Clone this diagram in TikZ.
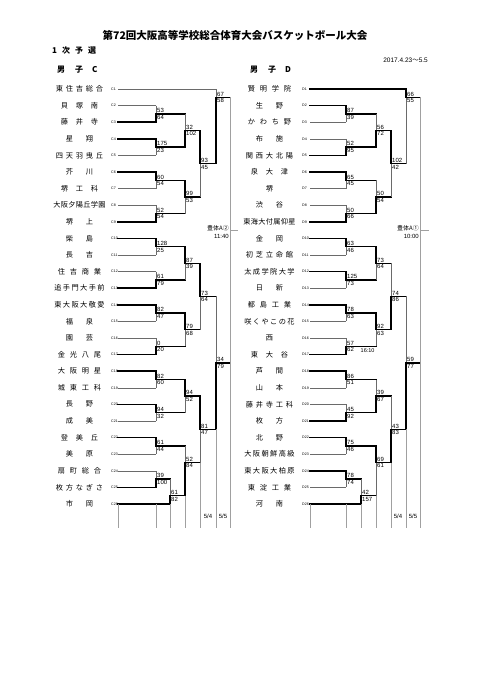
\documentclass[tikz,border=0pt]{standalone}
\usepackage{fontspec}
\setmainfont{Noto Sans CJK JP}
\newfontfamily\numfont{Liberation Sans}
\definecolor{LoseGray}{HTML}{6A6A6A}
\definecolor{RuleGray}{HTML}{A0A0A0}
\usetikzlibrary{positioning}
\newcommand{\spreadname}[1]{\makebox[53pt]{\spreadloop#1\relax}}
\def\spreadloop#1{\ifx\relax#1\hfill\else\hfill#1\expandafter\spreadloop\fi}
% #1 winner (t/b), #2 column, #3 upper entry, #4 out, #5 lower entry, #6 next column, #7/#8 scores
\newcommand{\game}[8]{%
  \ifx t#1
    \draw[loseline] (#2,#4) -- (#2,#5);
    \draw[winline] (#2,#3) -- (#2,#4) -- (#6,#4);
  \else
    \draw[loseline] (#2,#3) -- (#2,#4);
    \draw[winline] (#2,#5) -- (#2,#4) -- (#6,#4);
  \fi
  \node[score, anchor=south west] at (#2,#4) {#7};
  \node[score, anchor=north west] at (#2,#4) {#8};
}
\tikzset{
  winline/.style={line width=1.5pt, black, line cap=rect},
  loseline/.style={line width=0.6pt, LoseGray},
  ruleline/.style={line width=0.6pt, RuleGray},
  teamname/.style={font=\fontsize{7.2}{8}\selectfont, inner sep=0pt},
  teamcode/.style={font=\numfont\fontsize{3.6}{4}\selectfont, inner sep=0pt, anchor=west},
  score/.style={font=\numfont\fontsize{6}{7}\selectfont, inner xsep=1pt, inner ysep=1pt},
  smalltext/.style={font=\fontsize{6}{8}\selectfont, inner sep=0pt},
}

\begin{document}
\begin{tikzpicture}[x=1pt, y=-1pt]
  \useasboundingbox (0,0) rectangle (482,680);
  % heading
  \node[font=\bfseries\fontsize{10.5}{12}\selectfont] (title) at (235,36) {第72回大阪高等学校総合体育大会バスケットボール大会};
  \node[anchor=west, font=\bfseries\fontsize{8}{9}\selectfont, inner sep=0pt] (stage) at (52,50) {1\hspace{5pt}次\hspace{5pt}予\hspace{5pt}選};
  \node[anchor=east, font=\numfont\fontsize{6.5}{7}\selectfont, inner sep=0pt] (dates) at (428,60) {2017.4.23{\fontspec{Noto Sans CJK JP}～}5.5};
  \node[anchor=west, font=\bfseries\fontsize{8}{9}\selectfont, inner sep=0pt] (headC) at (57,70) {男\hspace{10pt}子\hspace{9pt}C};
  \node[anchor=west, font=\bfseries\fontsize{8}{9}\selectfont, inner sep=0pt] (headD) at (250,70) {男\hspace{10pt}子\hspace{9pt}D};

  % block C
  \foreach \i/\nm/\st/\xe in {1/東住吉総合/loseline/216, 2/貝塚南/loseline/156, 3/藤井寺/winline/156,
      4/星翔/winline/156, 5/四天羽曳丘/loseline/156, 6/芥川/winline/156, 7/堺工科/loseline/156,
      8/大阪夕陽丘学園/loseline/156, 9/堺上/winline/156, 10/柴島/winline/156, 11/長吉/loseline/156,
      12/住吉商業/loseline/156, 13/追手門大手前/winline/156, 14/東大阪大敬愛/winline/156,
      15/福泉/loseline/156, 16/園芸/loseline/156, 17/金光八尾/winline/156, 18/大阪明星/winline/156,
      19/城東工科/loseline/156, 20/長野/winline/156, 21/成美/loseline/156, 22/登美丘/winline/156,
      23/美原/loseline/156, 24/扇町総合/loseline/156, 25/枚方なぎさ/winline/156, 26/市岡/winline/170}{
    \pgfmathsetmacro\yy{89+16.6*(\i-1)}
    \node[teamname] (nC\i) at (79.5,\yy) {\expandafter\spreadname\expandafter{\nm}};
    \node[teamcode] (kC\i) at (111,\yy) {C\i};
    \coordinate (sC\i) at (118,\yy);
    \draw[\st] (sC\i) -- (\xe,\yy);
  }
  \game{b}{156}{105.6}{113.9}{122.2}{185}{53}{64}
  \game{t}{156}{138.8}{147.1}{155.4}{185}{175}{23}
  \game{t}{156}{172}{180.3}{188.6}{185}{60}{54}
  \game{b}{156}{205.2}{213.5}{221.8}{185}{52}{54}
  \game{t}{156}{238.4}{246.7}{255}{185}{128}{25}
  \game{b}{156}{271.6}{279.9}{288.2}{185}{61}{79}
  \game{t}{156}{304.8}{313.1}{321.4}{185}{82}{47}
  \game{b}{156}{338}{346.3}{354.6}{185}{0}{20}
  \game{t}{156}{371.2}{379.5}{387.8}{185}{82}{60}
  \game{t}{156}{404.4}{412.7}{421}{185}{94}{32}
  \game{t}{156}{437.6}{445.9}{454.2}{185}{61}{44}
  \game{b}{156}{470.8}{479.1}{487.4}{170}{39}{100}
  \game{b}{170}{479.1}{495.7}{504}{185}{61}{82}
  \game{b}{185}{113.9}{130.5}{147.1}{200}{32}{102}
  \game{t}{185}{180.3}{196.9}{213.5}{200}{99}{53}
  \game{t}{185}{246.7}{263.3}{279.9}{200}{87}{39}
  \game{t}{185}{313.1}{329.7}{346.3}{200}{79}{68}
  \game{t}{185}{379.5}{396.1}{412.7}{200}{94}{52}
  \game{b}{185}{445.9}{462.5}{495.7}{200}{52}{84}
  \game{t}{200}{130.5}{163.7}{196.9}{216}{93}{45}
  \game{t}{200}{263.3}{296.3}{329.7}{216}{73}{64}
  \game{t}{200}{396.1}{429.3}{462.5}{216}{81}{47}
  \game{b}{216}{89}{97.3}{163.7}{230}{67}{58}
  \game{b}{216}{296.3}{362.8}{429.3}{230}{34}{79}
  \draw[ruleline] (230,97.3) -- (230,528);
  \coordinate (outC) at (238,230);
  \draw[ruleline] (230,230) -- (outC);
  \node[smalltext, align=right, anchor=east] (gymC) at (229,231.5) {豊体A②\\{\numfont 11:40}};
  \foreach \x/\yt in {118/504, 156/504, 170/504, 185/495.7, 200/462.5, 216/429.3}
    \draw[ruleline] (\x,\yt) -- (\x,528);
  \node[smalltext, font=\numfont\fontsize{6}{7}\selectfont] (dayC1) at (208,516) {5/4};
  \node[smalltext, font=\numfont\fontsize{6}{7}\selectfont] (dayC2) at (223,516) {5/5};

  % block D
  \foreach \i/\nm/\st/\xe in {1/賢明学院/winline/406, 2/生野/winline/346, 3/かわち野/loseline/346,
      4/布施/loseline/346, 5/関西大北陽/winline/346, 6/泉大津/winline/346, 7/堺/loseline/346,
      8/渋谷/loseline/346, 9/東海大付属仰星/winline/346, 10/金岡/winline/346, 11/初芝立命館/loseline/346,
      12/太成学院大学/winline/346, 13/日新/loseline/346, 14/都島工業/winline/346,
      15/咲くやこの花/loseline/346, 16/西/loseline/346, 17/東大谷/winline/346, 18/芦間/winline/346,
      19/山本/loseline/346, 20/藤井寺工科/loseline/346, 21/枚方/winline/346, 22/北野/winline/346,
      23/大阪朝鮮高級/loseline/346, 24/東大阪大柏原/winline/346, 25/東淀工業/loseline/346, 26/河南/winline/361}{
    \pgfmathsetmacro\yy{89+16.6*(\i-1)}
    \node[teamname] (nD\i) at (269.5,\yy) {\expandafter\spreadname\expandafter{\nm}};
    \node[teamcode] (kD\i) at (302,\yy) {D\i};
    \coordinate (sD\i) at (310,\yy);
    \draw[\st] (sD\i) -- (\xe,\yy);
  }
  \game{t}{346}{105.6}{113.9}{122.2}{376}{87}{39}
  \game{b}{346}{138.8}{147.1}{155.4}{376}{52}{95}
  \game{t}{346}{172}{180.3}{188.6}{376}{65}{45}
  \game{b}{346}{205.2}{213.5}{221.8}{376}{50}{66}
  \game{t}{346}{238.4}{246.7}{255}{376}{63}{46}
  \game{t}{346}{271.6}{279.9}{288.2}{376}{125}{73}
  \game{t}{346}{304.8}{313.1}{321.4}{376}{78}{63}
  \game{b}{346}{338}{346.3}{354.6}{376}{57}{62}
  \game{t}{346}{371.2}{379.5}{387.8}{376}{86}{51}
  \game{b}{346}{404.4}{412.7}{421}{376}{45}{92}
  \game{t}{346}{437.6}{445.9}{454.2}{376}{75}{46}
  \game{t}{346}{470.8}{479.1}{487.4}{361}{78}{74}
  \game{b}{361}{479.1}{495.7}{504}{376}{42}{157}
  \game{b}{376}{113.9}{130.5}{147.1}{391}{56}{72}
  \game{b}{376}{180.3}{196.9}{213.5}{391}{50}{54}
  \game{t}{376}{246.7}{263.3}{279.9}{391}{73}{64}
  \game{t}{376}{313.1}{329.7}{346.3}{391}{92}{63}
  \game{b}{376}{379.5}{396.1}{412.7}{391}{39}{67}
  \game{t}{376}{445.9}{462.5}{495.7}{391}{69}{61}
  \game{t}{391}{130.5}{163.7}{196.9}{406}{102}{42}
  \game{b}{391}{263.3}{296.3}{329.7}{406}{74}{86}
  \game{b}{391}{396.1}{429.3}{462.5}{406}{43}{83}
  \game{t}{406}{89}{97.3}{163.7}{420}{66}{55}
  \game{b}{406}{296.3}{362.8}{429.3}{420}{59}{77}
  \node[smalltext, font=\numfont\fontsize{5.5}{6}\selectfont, anchor=west] (timeD) at (360.5,351) {16:10};
  \draw[ruleline] (420,97.3) -- (420,528);
  \coordinate (outD) at (429,230);
  \draw[ruleline] (420,230) -- (outD);
  \node[smalltext, align=right, anchor=east] (gymD) at (419,231.5) {豊体A①\\{\numfont 10:00}};
  \foreach \x/\yt in {310/504, 346/504, 361/504, 376/495.7, 391/462.5, 406/429.3}
    \draw[ruleline] (\x,\yt) -- (\x,528);
  \node[smalltext, font=\numfont\fontsize{6}{7}\selectfont] (dayD1) at (398,516) {5/4};
  \node[smalltext, font=\numfont\fontsize{6}{7}\selectfont] (dayD2) at (413,516) {5/5};
\end{tikzpicture}
\end{document}
